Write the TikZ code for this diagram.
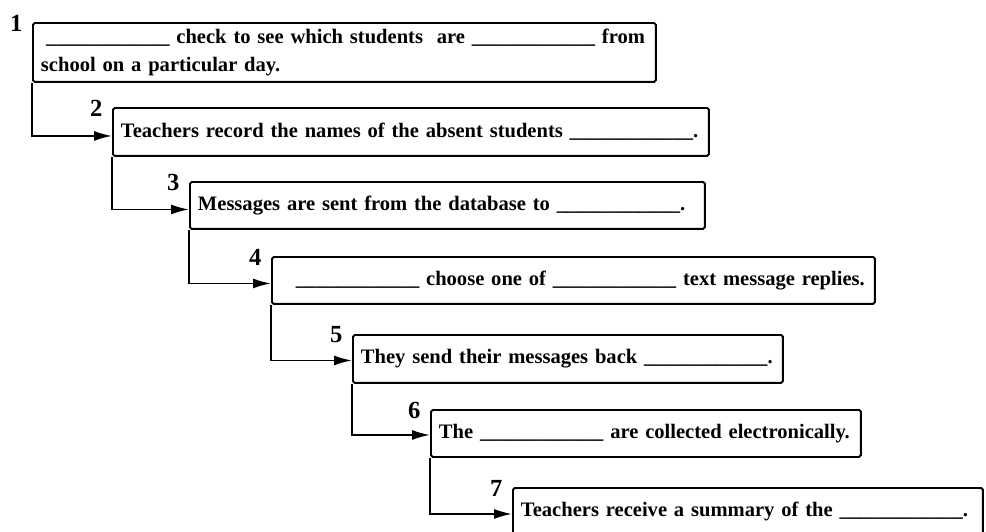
\documentclass[tikz,border=0pt]{standalone}
\usepackage{fontspec}
\setmainfont{Liberation Serif}
\usetikzlibrary{positioning,arrows.meta}

\newcommand{\blank}{\_\_\_\_\_\_\_\_\_\_\_\_}
\newcommand{\oneline}[1]{\mbox{#1}}

\tikzset{
    stepbox/.style={draw, line width=1.1pt, rounded corners=1pt, anchor=north west,
        inner xsep=0.16cm, inner ysep=0pt, align=left,
        font=\fontsize{11.7}{16}\selectfont\bfseries},
    num/.style={inner sep=0pt, font=\fontsize{14}{14}\selectfont\bfseries},
    flow/.style={line width=1pt, -{Latex[length=0.36cm,width=0.2cm]}}
}

\begin{document}
\begin{tikzpicture}[x=0.02cm, y=-0.02cm, line width=0.2mm]

    % Size of the page.
    \useasboundingbox (0,0) rectangle (986,531);

    % Top left corners of the steps.
    \coordinate (P1) at ( 32, 22);
    \coordinate (P2) at (112,107);
    \coordinate (P3) at (189,181);
    \coordinate (P4) at (271,256);
    \coordinate (P5) at (352,334);
    \coordinate (P6) at (430,409);
    \coordinate (P7) at (512,487);

    % The steps.
    \node[stepbox, text width=12.14cm, minimum height=1.18cm] (s1) at (P1)
        {\oneline{\hspace*{3pt}\blank{} check to see which students~ are \blank{} from}\\
         \oneline{school on a particular day.}};
    \node[stepbox, text width=11.60cm, minimum height=0.96cm] (s2) at (P2)
        {\oneline{Teachers record the names of the absent students \blank.}};
    \node[stepbox, text width=9.98cm, minimum height=0.94cm] (s3) at (P3)
        {\oneline{Messages are sent from the database to \blank.}};
    \node[stepbox, text width=11.74cm, minimum height=0.94cm] (s4) at (P4)
        {\oneline{\hspace*{0.32cm}\blank{} choose one of \blank{} text message replies.}};
    \node[stepbox, text width=8.28cm, minimum height=0.96cm] (s5) at (P5)
        {\oneline{They send their messages back \blank.}};
    \node[stepbox, text width=8.28cm, minimum height=0.94cm] (s6) at (P6)
        {\oneline{The \blank{} are collected electronically.}};
    \node[stepbox, text width=9.08cm, minimum height=0.94cm] (s7) at (P7)
        {\oneline{Teachers receive a summary of the \blank.}};

    % Step numbers.
    \node[num, left=0.18cm of s1.north west, yshift=-0.02cm] (n1) {1};
    \node[num, left=0.18cm of s2.north west, yshift=-0.02cm] (n2) {2};
    \node[num, left=0.18cm of s3.north west, yshift=-0.02cm] (n3) {3};
    \node[num, left=0.18cm of s4.north west, yshift=-0.02cm] (n4) {4};
    \node[num, left=0.18cm of s5.north west, yshift=-0.02cm] (n5) {5};
    \node[num, left=0.18cm of s6.north west, yshift=-0.02cm] (n6) {6};
    \node[num, left=0.18cm of s7.north west, yshift=-0.02cm] (n7) {7};

    % Arrows from one step to the next.
    \draw[flow] (s1.south west) |- ([yshift=-0.08cm]s2.west);
    \draw[flow] (s2.south west) |- ([yshift=-0.08cm]s3.west);
    \draw[flow] (s3.south west) |- ([yshift=-0.06cm]s4.west);
    \draw[flow] (s4.south west) |- ([yshift=-0.03cm]s5.west);
    \draw[flow] (s5.south west) |- ([yshift=-0.03cm]s6.west);
    \draw[flow] (s6.south west) |- ([yshift=-0.05cm]s7.west);
\end{tikzpicture}
\end{document}
